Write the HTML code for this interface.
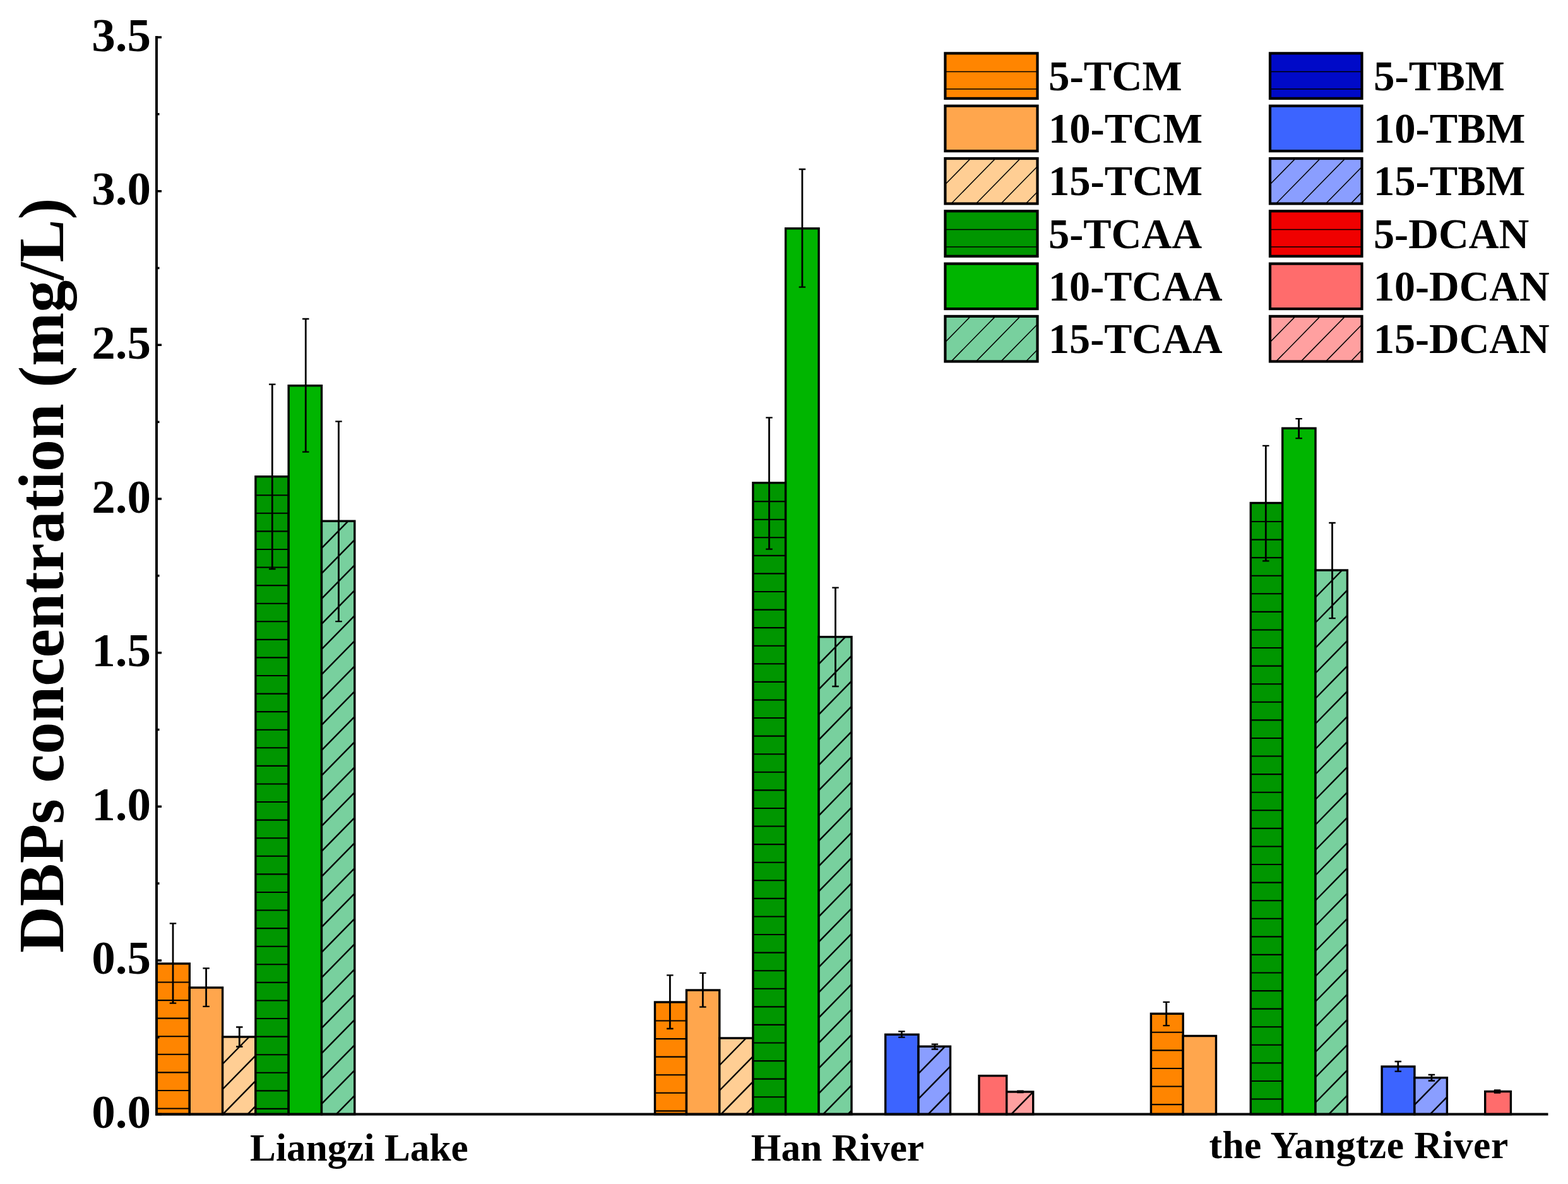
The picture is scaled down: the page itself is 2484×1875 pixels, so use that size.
<!DOCTYPE html><html><head><meta charset="utf-8"><title>DBPs concentration chart</title><style>html,body{margin:0;padding:0;background:#fff;overflow:hidden}svg{display:block}text{font-family:"Liberation Serif","Times New Roman",serif;font-weight:bold;fill:#000}</style></head><body>
<svg width="2484" height="1875" viewBox="0 0 2484 1875">
<rect width="2484" height="1875" fill="#fff"/>
<rect x="248.00" y="1526.00" width="52.30" height="238.60" fill="rgb(255,133,0)"/>
<path d="M248.00 1555.50H300.30M248.00 1584.08H300.30M248.00 1612.66H300.30M248.00 1641.24H300.30M248.00 1669.82H300.30M248.00 1698.40H300.30M248.00 1726.98H300.30M248.00 1755.56H300.30" stroke="#000" stroke-width="2.1" fill="none"/>
<rect x="248.00" y="1526.00" width="52.30" height="238.60" fill="none" stroke="#000" stroke-width="3.4"/>
<rect x="300.30" y="1564.00" width="52.30" height="200.60" fill="rgb(255,166,77)"/>
<rect x="300.30" y="1564.00" width="52.30" height="200.60" fill="none" stroke="#000" stroke-width="3.4"/>
<rect x="352.60" y="1642.00" width="52.30" height="122.60" fill="rgb(255,206,148)"/>
<path d="M352.60 1685.00L394.76 1642.00M352.60 1725.00L404.90 1671.65M352.99 1764.60L404.90 1711.65M392.21 1764.60L404.90 1751.65" stroke="#000" stroke-width="2.4" fill="none"/>
<rect x="352.60" y="1642.00" width="52.30" height="122.60" fill="none" stroke="#000" stroke-width="3.4"/>
<rect x="404.90" y="754.70" width="52.30" height="1009.90" fill="rgb(0,150,0)"/>
<path d="M404.90 784.20H457.20M404.90 812.78H457.20M404.90 841.36H457.20M404.90 869.94H457.20M404.90 898.52H457.20M404.90 927.10H457.20M404.90 955.68H457.20M404.90 984.26H457.20M404.90 1012.84H457.20M404.90 1041.42H457.20M404.90 1070.00H457.20M404.90 1098.58H457.20M404.90 1127.16H457.20M404.90 1155.74H457.20M404.90 1184.32H457.20M404.90 1212.90H457.20M404.90 1241.48H457.20M404.90 1270.06H457.20M404.90 1298.64H457.20M404.90 1327.22H457.20M404.90 1355.80H457.20M404.90 1384.38H457.20M404.90 1412.96H457.20M404.90 1441.54H457.20M404.90 1470.12H457.20M404.90 1498.70H457.20M404.90 1527.28H457.20M404.90 1555.86H457.20M404.90 1584.44H457.20M404.90 1613.02H457.20M404.90 1641.60H457.20M404.90 1670.18H457.20M404.90 1698.76H457.20M404.90 1727.34H457.20M404.90 1755.92H457.20" stroke="#000" stroke-width="2.1" fill="none"/>
<rect x="404.90" y="754.70" width="52.30" height="1009.90" fill="none" stroke="#000" stroke-width="3.4"/>
<rect x="457.20" y="610.70" width="52.30" height="1153.90" fill="rgb(0,181,0)"/>
<rect x="457.20" y="610.70" width="52.30" height="1153.90" fill="none" stroke="#000" stroke-width="3.4"/>
<rect x="509.50" y="825.20" width="52.30" height="939.40" fill="rgb(120,208,158)"/>
<path d="M509.50 868.20L551.66 825.20M509.50 908.20L561.80 854.85M509.50 948.20L561.80 894.85M509.50 988.20L561.80 934.85M509.50 1028.20L561.80 974.85M509.50 1068.20L561.80 1014.85M509.50 1108.20L561.80 1054.85M509.50 1148.20L561.80 1094.85M509.50 1188.20L561.80 1134.85M509.50 1228.20L561.80 1174.85M509.50 1268.20L561.80 1214.85M509.50 1308.20L561.80 1254.85M509.50 1348.20L561.80 1294.85M509.50 1388.20L561.80 1334.85M509.50 1428.20L561.80 1374.85M509.50 1468.20L561.80 1414.85M509.50 1508.20L561.80 1454.85M509.50 1548.20L561.80 1494.85M509.50 1588.20L561.80 1534.85M509.50 1628.20L561.80 1574.85M509.50 1668.20L561.80 1614.85M509.50 1708.20L561.80 1654.85M509.50 1748.20L561.80 1694.85M532.64 1764.60L561.80 1734.85" stroke="#000" stroke-width="2.4" fill="none"/>
<rect x="509.50" y="825.20" width="52.30" height="939.40" fill="none" stroke="#000" stroke-width="3.4"/>
<rect x="1037.50" y="1587.00" width="50.00" height="177.60" fill="rgb(255,133,0)"/>
<path d="M1037.50 1616.50H1087.50M1037.50 1645.08H1087.50M1037.50 1673.66H1087.50M1037.50 1702.24H1087.50M1037.50 1730.82H1087.50M1037.50 1759.40H1087.50" stroke="#000" stroke-width="2.1" fill="none"/>
<rect x="1037.50" y="1587.00" width="50.00" height="177.60" fill="none" stroke="#000" stroke-width="3.4"/>
<rect x="1087.50" y="1568.00" width="52.30" height="196.60" fill="rgb(255,166,77)"/>
<rect x="1087.50" y="1568.00" width="52.30" height="196.60" fill="none" stroke="#000" stroke-width="3.4"/>
<rect x="1139.80" y="1644.00" width="53.10" height="120.60" fill="rgb(255,206,148)"/>
<path d="M1139.80 1687.00L1181.96 1644.00M1139.80 1727.00L1192.90 1672.84M1142.15 1764.60L1192.90 1712.84M1181.37 1764.60L1192.90 1752.84" stroke="#000" stroke-width="2.4" fill="none"/>
<rect x="1139.80" y="1644.00" width="53.10" height="120.60" fill="none" stroke="#000" stroke-width="3.4"/>
<rect x="1192.90" y="764.60" width="51.70" height="1000.00" fill="rgb(0,150,0)"/>
<path d="M1192.90 794.10H1244.60M1192.90 822.68H1244.60M1192.90 851.26H1244.60M1192.90 879.84H1244.60M1192.90 908.42H1244.60M1192.90 937.00H1244.60M1192.90 965.58H1244.60M1192.90 994.16H1244.60M1192.90 1022.74H1244.60M1192.90 1051.32H1244.60M1192.90 1079.90H1244.60M1192.90 1108.48H1244.60M1192.90 1137.06H1244.60M1192.90 1165.64H1244.60M1192.90 1194.22H1244.60M1192.90 1222.80H1244.60M1192.90 1251.38H1244.60M1192.90 1279.96H1244.60M1192.90 1308.54H1244.60M1192.90 1337.12H1244.60M1192.90 1365.70H1244.60M1192.90 1394.28H1244.60M1192.90 1422.86H1244.60M1192.90 1451.44H1244.60M1192.90 1480.02H1244.60M1192.90 1508.60H1244.60M1192.90 1537.18H1244.60M1192.90 1565.76H1244.60M1192.90 1594.34H1244.60M1192.90 1622.92H1244.60M1192.90 1651.50H1244.60M1192.90 1680.08H1244.60M1192.90 1708.66H1244.60M1192.90 1737.24H1244.60" stroke="#000" stroke-width="2.1" fill="none"/>
<rect x="1192.90" y="764.60" width="51.70" height="1000.00" fill="none" stroke="#000" stroke-width="3.4"/>
<rect x="1244.60" y="361.80" width="52.50" height="1402.80" fill="rgb(0,181,0)"/>
<rect x="1244.60" y="361.80" width="52.50" height="1402.80" fill="none" stroke="#000" stroke-width="3.4"/>
<rect x="1297.10" y="1008.60" width="51.90" height="756.00" fill="rgb(120,208,158)"/>
<path d="M1297.10 1051.60L1339.26 1008.60M1297.10 1091.60L1349.00 1038.66M1297.10 1131.60L1349.00 1078.66M1297.10 1171.60L1349.00 1118.66M1297.10 1211.60L1349.00 1158.66M1297.10 1251.60L1349.00 1198.66M1297.10 1291.60L1349.00 1238.66M1297.10 1331.60L1349.00 1278.66M1297.10 1371.60L1349.00 1318.66M1297.10 1411.60L1349.00 1358.66M1297.10 1451.60L1349.00 1398.66M1297.10 1491.60L1349.00 1438.66M1297.10 1531.60L1349.00 1478.66M1297.10 1571.60L1349.00 1518.66M1297.10 1611.60L1349.00 1558.66M1297.10 1651.60L1349.00 1598.66M1297.10 1691.60L1349.00 1638.66M1297.10 1731.60L1349.00 1678.66M1303.96 1764.60L1349.00 1718.66M1343.18 1764.60L1349.00 1758.66" stroke="#000" stroke-width="2.4" fill="none"/>
<rect x="1297.10" y="1008.60" width="51.90" height="756.00" fill="none" stroke="#000" stroke-width="3.4"/>
<rect x="1402.70" y="1638.30" width="52.30" height="126.30" fill="rgb(60,100,255)"/>
<rect x="1402.70" y="1638.30" width="52.30" height="126.30" fill="none" stroke="#000" stroke-width="3.4"/>
<rect x="1455.00" y="1657.20" width="50.50" height="107.40" fill="rgb(138,158,255)"/>
<path d="M1455.00 1700.20L1497.16 1657.20M1455.00 1740.20L1505.50 1688.69M1470.29 1764.60L1505.50 1728.69" stroke="#000" stroke-width="2.4" fill="none"/>
<rect x="1455.00" y="1657.20" width="50.50" height="107.40" fill="none" stroke="#000" stroke-width="3.4"/>
<rect x="1551.00" y="1703.60" width="43.70" height="61.00" fill="rgb(255,108,108)"/>
<rect x="1551.00" y="1703.60" width="43.70" height="61.00" fill="none" stroke="#000" stroke-width="3.4"/>
<rect x="1594.70" y="1729.00" width="42.00" height="35.60" fill="rgb(255,160,160)"/>
<path d="M1601.95 1764.60L1636.70 1729.16" stroke="#000" stroke-width="2.4" fill="none"/>
<rect x="1594.70" y="1729.00" width="42.00" height="35.60" fill="none" stroke="#000" stroke-width="3.4"/>
<rect x="1823.40" y="1605.30" width="50.80" height="159.30" fill="rgb(255,133,0)"/>
<path d="M1823.40 1634.80H1874.20M1823.40 1663.38H1874.20M1823.40 1691.96H1874.20M1823.40 1720.54H1874.20M1823.40 1749.12H1874.20" stroke="#000" stroke-width="2.1" fill="none"/>
<rect x="1823.40" y="1605.30" width="50.80" height="159.30" fill="none" stroke="#000" stroke-width="3.4"/>
<rect x="1874.20" y="1640.50" width="52.30" height="124.10" fill="rgb(255,166,77)"/>
<rect x="1874.20" y="1640.50" width="52.30" height="124.10" fill="none" stroke="#000" stroke-width="3.4"/>
<rect x="1981.30" y="796.50" width="50.40" height="968.10" fill="rgb(0,150,0)"/>
<path d="M1981.30 826.00H2031.70M1981.30 854.58H2031.70M1981.30 883.16H2031.70M1981.30 911.74H2031.70M1981.30 940.32H2031.70M1981.30 968.90H2031.70M1981.30 997.48H2031.70M1981.30 1026.06H2031.70M1981.30 1054.64H2031.70M1981.30 1083.22H2031.70M1981.30 1111.80H2031.70M1981.30 1140.38H2031.70M1981.30 1168.96H2031.70M1981.30 1197.54H2031.70M1981.30 1226.12H2031.70M1981.30 1254.70H2031.70M1981.30 1283.28H2031.70M1981.30 1311.86H2031.70M1981.30 1340.44H2031.70M1981.30 1369.02H2031.70M1981.30 1397.60H2031.70M1981.30 1426.18H2031.70M1981.30 1454.76H2031.70M1981.30 1483.34H2031.70M1981.30 1511.92H2031.70M1981.30 1540.50H2031.70M1981.30 1569.08H2031.70M1981.30 1597.66H2031.70M1981.30 1626.24H2031.70M1981.30 1654.82H2031.70M1981.30 1683.40H2031.70M1981.30 1711.98H2031.70M1981.30 1740.56H2031.70" stroke="#000" stroke-width="2.1" fill="none"/>
<rect x="1981.30" y="796.50" width="50.40" height="968.10" fill="none" stroke="#000" stroke-width="3.4"/>
<rect x="2031.70" y="678.20" width="52.30" height="1086.40" fill="rgb(0,181,0)"/>
<rect x="2031.70" y="678.20" width="52.30" height="1086.40" fill="none" stroke="#000" stroke-width="3.4"/>
<rect x="2084.00" y="903.00" width="50.40" height="861.60" fill="rgb(120,208,158)"/>
<path d="M2084.00 946.00L2126.16 903.00M2084.00 986.00L2134.40 934.59M2084.00 1026.00L2134.40 974.59M2084.00 1066.00L2134.40 1014.59M2084.00 1106.00L2134.40 1054.59M2084.00 1146.00L2134.40 1094.59M2084.00 1186.00L2134.40 1134.59M2084.00 1226.00L2134.40 1174.59M2084.00 1266.00L2134.40 1214.59M2084.00 1306.00L2134.40 1254.59M2084.00 1346.00L2134.40 1294.59M2084.00 1386.00L2134.40 1334.59M2084.00 1426.00L2134.40 1374.59M2084.00 1466.00L2134.40 1414.59M2084.00 1506.00L2134.40 1454.59M2084.00 1546.00L2134.40 1494.59M2084.00 1586.00L2134.40 1534.59M2084.00 1626.00L2134.40 1574.59M2084.00 1666.00L2134.40 1614.59M2084.00 1706.00L2134.40 1654.59M2084.00 1746.00L2134.40 1694.59M2104.98 1764.60L2134.40 1734.59" stroke="#000" stroke-width="2.4" fill="none"/>
<rect x="2084.00" y="903.00" width="50.40" height="861.60" fill="none" stroke="#000" stroke-width="3.4"/>
<rect x="2189.10" y="1689.00" width="51.80" height="75.60" fill="rgb(60,100,255)"/>
<rect x="2189.10" y="1689.00" width="51.80" height="75.60" fill="none" stroke="#000" stroke-width="3.4"/>
<rect x="2240.90" y="1706.70" width="51.50" height="57.90" fill="rgb(138,158,255)"/>
<path d="M2240.90 1749.70L2283.06 1706.70M2265.51 1764.60L2292.40 1737.17" stroke="#000" stroke-width="2.4" fill="none"/>
<rect x="2240.90" y="1706.70" width="51.50" height="57.90" fill="none" stroke="#000" stroke-width="3.4"/>
<rect x="2352.70" y="1728.50" width="40.70" height="36.10" fill="rgb(255,108,108)"/>
<rect x="2352.70" y="1728.50" width="40.70" height="36.10" fill="none" stroke="#000" stroke-width="3.4"/>
<path d="M274.00 1462.40V1588.60" stroke="#000" stroke-width="2.8" fill="none"/>
<path d="M268.75 1462.40H279.25M268.75 1588.60H279.25" stroke="#000" stroke-width="2.3" fill="none"/>
<path d="M326.60 1533.30V1593.90" stroke="#000" stroke-width="2.8" fill="none"/>
<path d="M321.35 1533.30H331.85M321.35 1593.90H331.85" stroke="#000" stroke-width="2.3" fill="none"/>
<path d="M379.30 1626.50V1657.50" stroke="#000" stroke-width="2.8" fill="none"/>
<path d="M374.05 1626.50H384.55M374.05 1657.50H384.55" stroke="#000" stroke-width="2.3" fill="none"/>
<path d="M431.30 608.70V901.20" stroke="#000" stroke-width="2.8" fill="none"/>
<path d="M426.05 608.70H436.55M426.05 901.20H436.55" stroke="#000" stroke-width="2.3" fill="none"/>
<path d="M484.30 505.00V715.60" stroke="#000" stroke-width="2.8" fill="none"/>
<path d="M479.05 505.00H489.55M479.05 715.60H489.55" stroke="#000" stroke-width="2.3" fill="none"/>
<path d="M536.50 667.30V984.20" stroke="#000" stroke-width="2.8" fill="none"/>
<path d="M531.25 667.30H541.75M531.25 984.20H541.75" stroke="#000" stroke-width="2.3" fill="none"/>
<path d="M1061.40 1544.40V1629.00" stroke="#000" stroke-width="2.8" fill="none"/>
<path d="M1056.15 1544.40H1066.65M1056.15 1629.00H1066.65" stroke="#000" stroke-width="2.3" fill="none"/>
<path d="M1113.40 1540.90V1594.70" stroke="#000" stroke-width="2.8" fill="none"/>
<path d="M1108.15 1540.90H1118.65M1108.15 1594.70H1118.65" stroke="#000" stroke-width="2.3" fill="none"/>
<path d="M1218.50 661.40V869.70" stroke="#000" stroke-width="2.8" fill="none"/>
<path d="M1213.25 661.40H1223.75M1213.25 869.70H1223.75" stroke="#000" stroke-width="2.3" fill="none"/>
<path d="M1270.90 268.00V454.70" stroke="#000" stroke-width="2.8" fill="none"/>
<path d="M1265.65 268.00H1276.15M1265.65 454.70H1276.15" stroke="#000" stroke-width="2.3" fill="none"/>
<path d="M1323.50 930.60V1087.00" stroke="#000" stroke-width="2.8" fill="none"/>
<path d="M1318.25 930.60H1328.75M1318.25 1087.00H1328.75" stroke="#000" stroke-width="2.3" fill="none"/>
<path d="M1428.40 1633.40V1642.60" stroke="#000" stroke-width="2.8" fill="none"/>
<path d="M1423.15 1633.40H1433.65M1423.15 1642.60H1433.65" stroke="#000" stroke-width="2.3" fill="none"/>
<path d="M1480.90 1653.60V1661.50" stroke="#000" stroke-width="2.8" fill="none"/>
<path d="M1475.65 1653.60H1486.15M1475.65 1661.50H1486.15" stroke="#000" stroke-width="2.3" fill="none"/>
<path d="M1616.40 1727.60V1730.00" stroke="#000" stroke-width="2.8" fill="none"/>
<path d="M1611.15 1727.60H1621.65M1611.15 1730.00H1621.65" stroke="#000" stroke-width="2.3" fill="none"/>
<path d="M1847.70 1586.80V1624.20" stroke="#000" stroke-width="2.8" fill="none"/>
<path d="M1842.45 1586.80H1852.95M1842.45 1624.20H1852.95" stroke="#000" stroke-width="2.3" fill="none"/>
<path d="M2005.30 705.90V888.40" stroke="#000" stroke-width="2.8" fill="none"/>
<path d="M2000.05 705.90H2010.55M2000.05 888.40H2010.55" stroke="#000" stroke-width="2.3" fill="none"/>
<path d="M2057.60 663.20V694.10" stroke="#000" stroke-width="2.8" fill="none"/>
<path d="M2052.35 663.20H2062.85M2052.35 694.10H2062.85" stroke="#000" stroke-width="2.3" fill="none"/>
<path d="M2110.50 828.00V979.20" stroke="#000" stroke-width="2.8" fill="none"/>
<path d="M2105.25 828.00H2115.75M2105.25 979.20H2115.75" stroke="#000" stroke-width="2.3" fill="none"/>
<path d="M2214.80 1681.00V1696.60" stroke="#000" stroke-width="2.8" fill="none"/>
<path d="M2209.55 1681.00H2220.05M2209.55 1696.60H2220.05" stroke="#000" stroke-width="2.3" fill="none"/>
<path d="M2267.90 1702.00V1711.50" stroke="#000" stroke-width="2.8" fill="none"/>
<path d="M2262.65 1702.00H2273.15M2262.65 1711.50H2273.15" stroke="#000" stroke-width="2.3" fill="none"/>
<path d="M2372.00 1726.50V1730.50" stroke="#000" stroke-width="2.8" fill="none"/>
<path d="M2366.75 1726.50H2377.25M2366.75 1730.50H2377.25" stroke="#000" stroke-width="2.3" fill="none"/>
<path d="M248 57V1766.6M246 1764.6H2452.5" stroke="#000" stroke-width="4.0" fill="none"/>
<path d="M246 1764.60H256M246 1520.95H256M246 1277.30H256M246 1033.65H256M246 790.00H256M246 546.35H256M246 302.70H256M246 59.05H256M246 1642.77H252.5M246 1399.12H252.5M246 1155.47H252.5M246 911.82H252.5M246 668.17H252.5M246 424.52H252.5M246 180.87H252.5" stroke="#000" stroke-width="3.5" fill="none"/>
<text x="239" y="1786.10" font-size="75" text-anchor="end">0.0</text>
<text x="239" y="1542.45" font-size="75" text-anchor="end">0.5</text>
<text x="239" y="1298.80" font-size="75" text-anchor="end">1.0</text>
<text x="239" y="1055.15" font-size="75" text-anchor="end">1.5</text>
<text x="239" y="811.50" font-size="75" text-anchor="end">2.0</text>
<text x="239" y="567.85" font-size="75" text-anchor="end">2.5</text>
<text x="239" y="324.20" font-size="75" text-anchor="end">3.0</text>
<text x="239" y="80.55" font-size="75" text-anchor="end">3.5</text>
<text transform="translate(100.4 1509) rotate(-90)" font-size="102">DBPs concentration (mg/L)</text>
<text x="396.1" y="1838.0" font-size="61.5" textLength="345.6" lengthAdjust="spacingAndGlyphs">Liangzi Lake</text>
<text x="1189.8" y="1838.1" font-size="61.5" textLength="274.3" lengthAdjust="spacingAndGlyphs">Han River</text>
<text x="1915.4" y="1834.2" font-size="61.5" textLength="473.8" lengthAdjust="spacing">the Yangtze River</text>
<rect x="1497.40" y="84.40" width="146.10" height="71.50" fill="rgb(255,133,0)"/>
<path d="M1497.40 113.60H1643.50M1497.40 141.00H1643.50" stroke="#000" stroke-width="1.5" fill="none"/>
<rect x="1497.40" y="84.40" width="146.10" height="71.50" fill="none" stroke="#000" stroke-width="4.2"/>
<text x="1661.0" y="142.85" font-size="68" textLength="211.7" lengthAdjust="spacingAndGlyphs">5-TCM</text>
<rect x="1497.40" y="167.70" width="146.10" height="71.50" fill="rgb(255,166,77)"/>
<rect x="1497.40" y="167.70" width="146.10" height="71.50" fill="none" stroke="#000" stroke-width="4.2"/>
<text x="1661.0" y="226.15" font-size="68" textLength="244.1" lengthAdjust="spacingAndGlyphs">10-TCM</text>
<rect x="1497.40" y="251.00" width="146.10" height="71.50" fill="rgb(255,206,148)"/>
<path d="M1497.40 292.00L1537.60 251.00M1506.91 322.50L1577.01 251.00M1546.32 322.50L1616.42 251.00M1585.73 322.50L1643.50 263.58M1625.15 322.50L1643.50 303.78" stroke="#000" stroke-width="1.5" fill="none"/>
<rect x="1497.40" y="251.00" width="146.10" height="71.50" fill="none" stroke="#000" stroke-width="4.2"/>
<text x="1661.0" y="309.45" font-size="68" textLength="244.1" lengthAdjust="spacingAndGlyphs">15-TCM</text>
<rect x="1497.40" y="334.30" width="146.10" height="71.50" fill="rgb(0,150,0)"/>
<path d="M1497.40 363.50H1643.50M1497.40 390.90H1643.50" stroke="#000" stroke-width="1.5" fill="none"/>
<rect x="1497.40" y="334.30" width="146.10" height="71.50" fill="none" stroke="#000" stroke-width="4.2"/>
<text x="1661.0" y="392.75" font-size="68" textLength="243.2" lengthAdjust="spacingAndGlyphs">5-TCAA</text>
<rect x="1497.40" y="417.60" width="146.10" height="71.50" fill="rgb(0,181,0)"/>
<rect x="1497.40" y="417.60" width="146.10" height="71.50" fill="none" stroke="#000" stroke-width="4.2"/>
<text x="1661.0" y="476.05" font-size="68" textLength="275.6" lengthAdjust="spacingAndGlyphs">10-TCAA</text>
<rect x="1497.40" y="500.90" width="146.10" height="71.50" fill="rgb(120,208,158)"/>
<path d="M1497.40 541.90L1537.60 500.90M1506.91 572.40L1577.01 500.90M1546.32 572.40L1616.42 500.90M1585.73 572.40L1643.50 513.48M1625.15 572.40L1643.50 553.68" stroke="#000" stroke-width="1.5" fill="none"/>
<rect x="1497.40" y="500.90" width="146.10" height="71.50" fill="none" stroke="#000" stroke-width="4.2"/>
<text x="1661.0" y="559.35" font-size="68" textLength="275.6" lengthAdjust="spacingAndGlyphs">15-TCAA</text>
<rect x="2012.00" y="84.40" width="145.50" height="71.50" fill="rgb(0,10,200)"/>
<path d="M2012.00 113.60H2157.50M2012.00 141.00H2157.50" stroke="#000" stroke-width="1.5" fill="none"/>
<rect x="2012.00" y="84.40" width="145.50" height="71.50" fill="none" stroke="#000" stroke-width="4.2"/>
<text x="2176.0" y="142.85" font-size="68" textLength="207.8" lengthAdjust="spacingAndGlyphs">5-TBM</text>
<rect x="2012.00" y="167.70" width="145.50" height="71.50" fill="rgb(60,100,255)"/>
<rect x="2012.00" y="167.70" width="145.50" height="71.50" fill="none" stroke="#000" stroke-width="4.2"/>
<text x="2176.0" y="226.15" font-size="68" textLength="240.4" lengthAdjust="spacingAndGlyphs">10-TBM</text>
<rect x="2012.00" y="251.00" width="145.50" height="71.50" fill="rgb(138,158,255)"/>
<path d="M2012.00 292.00L2052.20 251.00M2021.51 322.50L2091.61 251.00M2060.92 322.50L2131.02 251.00M2100.33 322.50L2157.50 264.19M2139.75 322.50L2157.50 304.39" stroke="#000" stroke-width="1.5" fill="none"/>
<rect x="2012.00" y="251.00" width="145.50" height="71.50" fill="none" stroke="#000" stroke-width="4.2"/>
<text x="2176.0" y="309.45" font-size="68" textLength="240.4" lengthAdjust="spacingAndGlyphs">15-TBM</text>
<rect x="2012.00" y="334.30" width="145.50" height="71.50" fill="rgb(240,0,0)"/>
<path d="M2012.00 363.50H2157.50M2012.00 390.90H2157.50" stroke="#000" stroke-width="1.5" fill="none"/>
<rect x="2012.00" y="334.30" width="145.50" height="71.50" fill="none" stroke="#000" stroke-width="4.2"/>
<text x="2176.0" y="392.75" font-size="68" textLength="246.3" lengthAdjust="spacingAndGlyphs">5-DCAN</text>
<rect x="2012.00" y="417.60" width="145.50" height="71.50" fill="rgb(255,108,108)"/>
<rect x="2012.00" y="417.60" width="145.50" height="71.50" fill="none" stroke="#000" stroke-width="4.2"/>
<text x="2176.0" y="476.05" font-size="68" textLength="278.7" lengthAdjust="spacingAndGlyphs">10-DCAN</text>
<rect x="2012.00" y="500.90" width="145.50" height="71.50" fill="rgb(255,160,160)"/>
<path d="M2012.00 541.90L2052.20 500.90M2021.51 572.40L2091.61 500.90M2060.92 572.40L2131.02 500.90M2100.33 572.40L2157.50 514.09M2139.75 572.40L2157.50 554.29" stroke="#000" stroke-width="1.5" fill="none"/>
<rect x="2012.00" y="500.90" width="145.50" height="71.50" fill="none" stroke="#000" stroke-width="4.2"/>
<text x="2176.0" y="559.35" font-size="68" textLength="278.7" lengthAdjust="spacingAndGlyphs">15-DCAN</text>
</svg></body></html>
